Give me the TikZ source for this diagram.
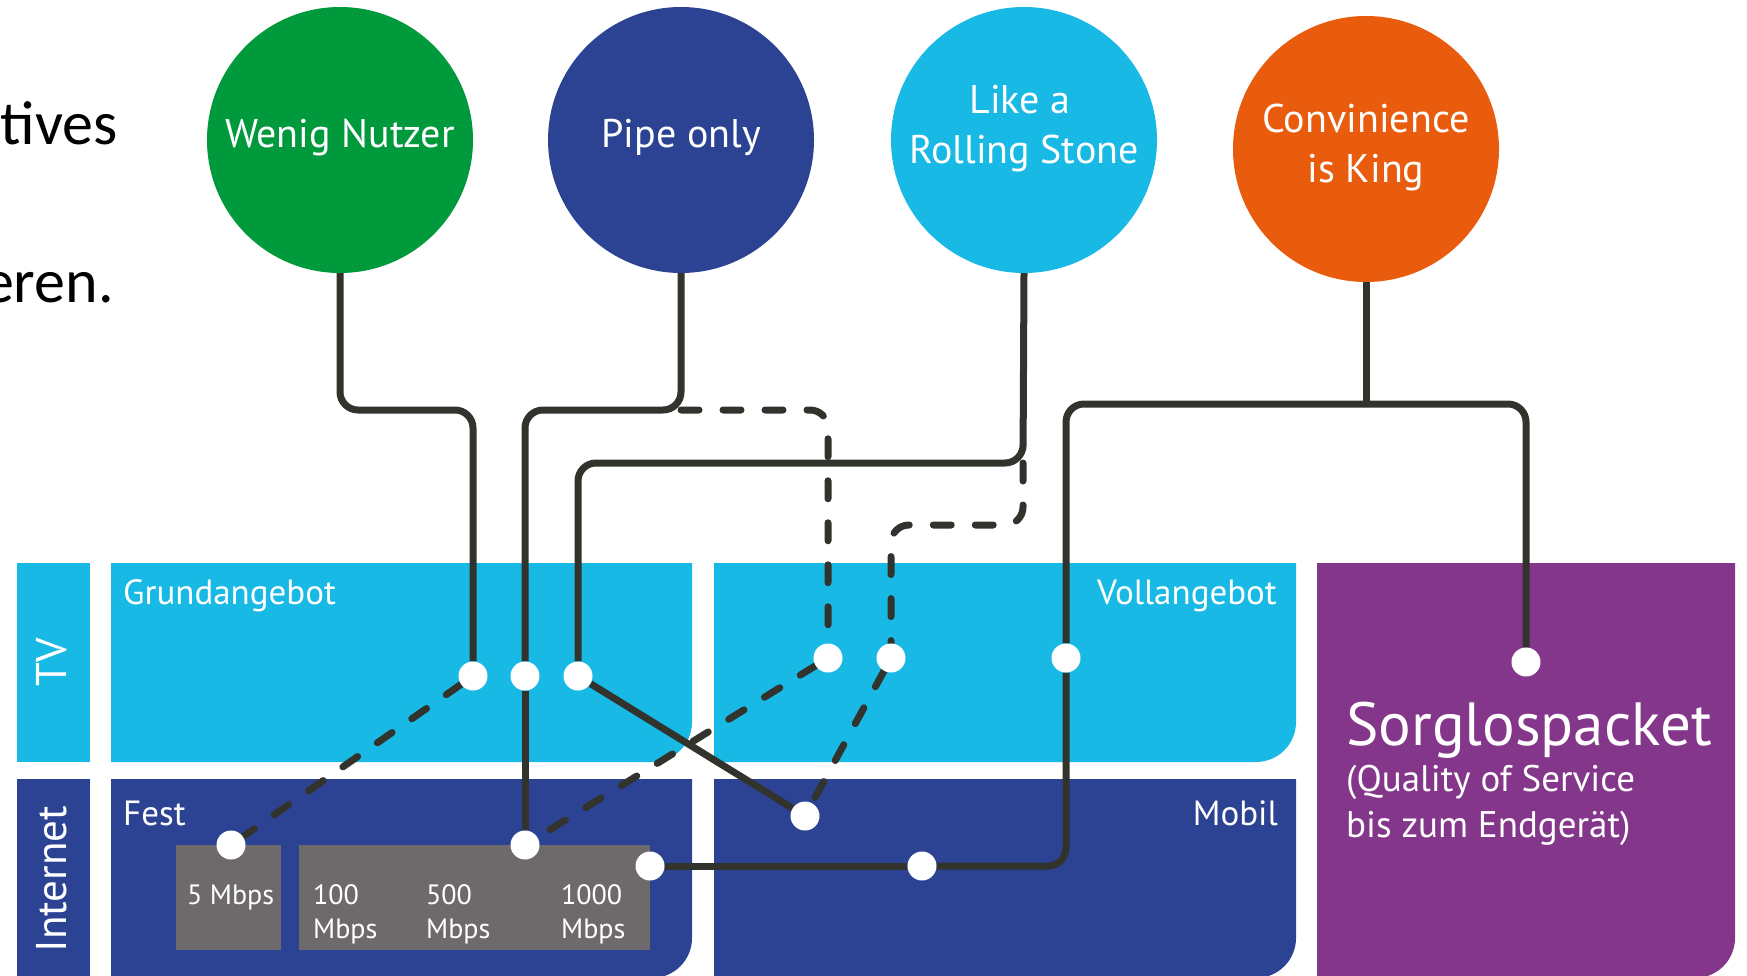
\documentclass[tikz,border=0pt]{standalone}
\usepackage{fontspec}
\setmainfont{PT Sans}
\newfontfamily\calib{Carlito}
\usetikzlibrary{calc}
\pgfdeclarelayer{bg}\pgfdeclarelayer{ln}\pgfsetlayers{bg,ln,main}
\definecolor{cgreen}{RGB}{0,154,61}
\definecolor{cnavy}{RGB}{44,67,148}
\definecolor{ccyan}{RGB}{25,185,230}
\definecolor{corange}{RGB}{233,92,13}
\definecolor{cpurple}{RGB}{132,54,138}
\definecolor{cgray}{RGB}{110,106,107}
\definecolor{cline}{RGB}{51,51,46}
\newcommand\brbox[5]{\fill[#1] (#2,#3) -- (#4,#3) -- (#4,#5-40) arc[start angle=0,end angle=-90,radius=40pt] -- (#2,#5) -- cycle;}
\tikzset{
 bubble/.style={circle, minimum size=266pt, inner sep=0pt},
 bubtext/.style={text=white, inner sep=0pt, anchor=base, font=\fontsize{40}{50}\selectfont},
 dot/.style={circle, fill=white, minimum size=29pt, inner sep=0pt},
 conn/.style={draw=cline, line width=7pt, rounded corners=18pt},
 dconn/.style={conn, dash pattern=on 18pt off 24pt, line cap=round},
 boxlabel/.style={text=white, inner sep=0pt, font=\fontsize{35}{40}\selectfont},
 speed/.style={text=white, inner sep=0pt, anchor=base west, font=\fontsize{28}{34}\selectfont},
 sidelabel/.style={text=white, inner sep=0pt, rotate=90, font=\fontsize{43}{50}\selectfont},
 sorg/.style={text=white, inner sep=0pt, anchor=base west},
 slide/.style={text=black, inner sep=0pt, anchor=base east, font=\calib\fontsize{62}{70}\selectfont},
}
\begin{document}
\begin{tikzpicture}[x=1pt,y=-1pt]
\useasboundingbox (0,0) rectangle (1747,976);
% background boxes
\begin{pgfonlayer}{bg}
\fill[ccyan] (17,563) rectangle (90,762);
\fill[cnavy] (17,779) rectangle (90,980);
\brbox{ccyan}{111}{563}{692}{762}
\brbox{cnavy}{111}{779}{692}{978}
\brbox{ccyan}{714}{563}{1296}{762}
\brbox{cnavy}{714}{779}{1296}{978}
\brbox{cpurple}{1317}{563}{1735}{978}
\fill[cgray] (176,845) rectangle (281,950);
\fill[cgray] (299,845) rectangle (650,950);
\end{pgfonlayer}
% slide text (cut off)
\node[slide] (t1) at (118,145) {tives};
\node[slide] (t2) at (114,302) {eren.};
% bubbles
\node[bubble, fill=cgreen] (wenig) at (340,140) {};
\node[bubble, fill=cnavy] (pipe) at (681,140) {};
\node[bubble, fill=ccyan] (rolling) at (1024,140) {};
\node[bubble, fill=corange] (conv) at (1366,149) {};
\node[bubtext] (wenigT) at (340,148) {Wenig Nutzer};
\node[bubtext] (pipeT) at (681,148) {Pipe only};
\node[bubtext] (rollT1) at (1020,114) {Like a};
\node[bubtext] (rollT2) at (1024,164) {Rolling Stone};
\node[bubtext] (convT1) at (1366,133) {Convinience};
\node[bubtext] (convT2) at (1366,183) {is King};
% labels
\node[sidelabel] (tv) at (52,662) {TV};
\node[sidelabel] (inet) at (52,879) {Internet};
\node[boxlabel, anchor=base west] (grund) at (123,604) {Grundangebot};
\node[boxlabel, anchor=base west] (fest) at (123,825) {Fest};
\node[boxlabel, anchor=base east] (voll) at (1277,604) {Vollangebot};
\node[boxlabel, anchor=base east] (mobil) at (1278,825) {Mobil};
\node[speed] (s5) at (187,904) {5 Mbps};
\node[speed] (s100) at (313,904) {100};
\node[speed] (s100b) at (313,938) {Mbps};
\node[speed] (s500) at (426,904) {500};
\node[speed] (s500b) at (426,938) {Mbps};
\node[speed] (s1000) at (561,904) {1000};
\node[speed] (s1000b) at (561,938) {Mbps};
\node[sorg, font=\fontsize{61}{70}\selectfont] (sorg1) at (1346,745) {Sorglospacket};
\node[sorg, font=\fontsize{37}{46}\selectfont] (sorg2) at (1346,791) {(Quality of Service};
\node[sorg, font=\fontsize{37}{46}\selectfont] (sorg3) at (1346,837) {bis zum Endgerät)};
% dots
\node[dot] (dotA) at (473,676) {};
\node[dot] (dotB) at (525,676) {};
\node[dot] (dotC) at (578,676) {};
\node[dot] (dot5) at (231,845) {};
\node[dot] (dot500) at (525,845) {};
\node[dot] (dot1000) at (650,866) {};
\node[dot] (dotD1) at (828,658) {};
\node[dot] (dotD2) at (891,658) {};
\node[dot] (dotD3) at (1066,658) {};
\node[dot] (dotM1) at (805,816) {};
\node[dot] (dotM2) at (922,866) {};
\node[dot] (dotP) at (1526,662) {};
% connectors
\begin{pgfonlayer}{ln}
\coordinate (w1) at (473,410);
\coordinate (p0) at (681,410);
\coordinate (r1) at (1023,463);
\coordinate (r3) at (1023,525);
\coordinate (c0) at (1366,404);
\draw[conn] (wenig.south) |- (w1) -- (dotA);
\draw[dconn] (dotA) -- (dot5);
\draw[conn] (pipe.south) -- (p0) -| (dotB);
\draw[conn] (dotB) -- (dot500);
\draw[dconn] (p0) -| (dotD1);
\draw[dconn] (dotD1) -- (dot500);
\draw[conn] (rolling.south) -- (r1) -| (dotC);
\draw[dconn] (r1) -- (r3) -| (dotD2);
\draw[conn] (dotC) -- (dotM1);
\draw[dconn] (dotD2) -- (dotM1);
\draw[conn] (conv.south) -- (c0);
\draw[conn] (c0) -| (dotD3);
\draw[conn] (c0) -| (dotP);
\draw[conn] (dotD3) |- (dotM2);
\draw[conn] (dotM2) -- (dot1000);
\end{pgfonlayer}
\end{tikzpicture}
\end{document}
